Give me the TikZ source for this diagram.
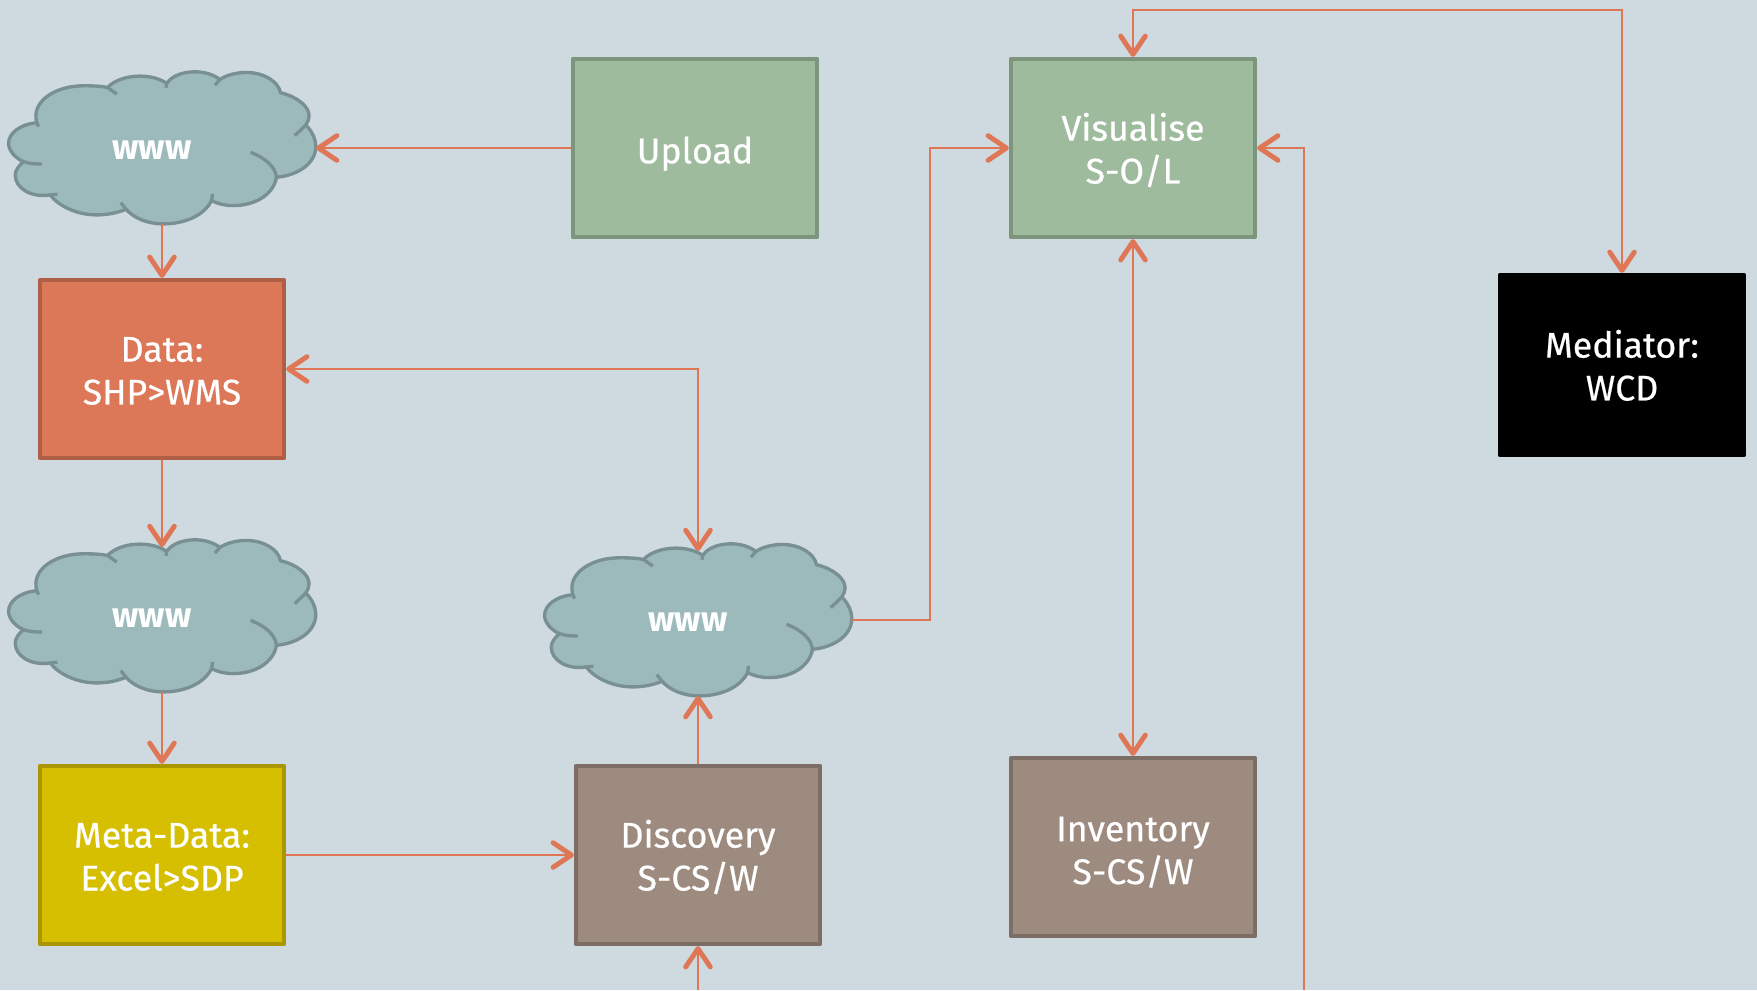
\documentclass[tikz,border=0pt]{standalone}
\usepackage{fontspec}
\setmainfont{Fira Sans}
\newfontfamily\boxfont{Fira Sans}[FakeBold=0.5]
\usetikzlibrary{arrows.meta}

\definecolor{paneback}{HTML}{CFDAE0}
\definecolor{cloudfill}{HTML}{9CBABC}
\definecolor{cloudline}{HTML}{789092}
\definecolor{greenfill}{HTML}{9FBB9D}
\definecolor{greenline}{HTML}{7D957C}
\definecolor{redfill}{HTML}{DC7857}
\definecolor{redline}{HTML}{AF5F46}
\definecolor{yellowfill}{HTML}{D6BE00}
\definecolor{yellowline}{HTML}{A99600}
\definecolor{brownfill}{HTML}{9E8B80}
\definecolor{brownline}{HTML}{7C6E65}
\definecolor{flowline}{HTML}{DF7757}

\newcommand{\boxtext}[2][1.55pt]{\raisebox{-#1}[\height][\depth]{\begin{tabular}{@{}c@{}}#2\end{tabular}}}

\tikzset{
	box/.style={draw,line width=1.2pt,line join=round,minimum width=2.44cm,minimum height=1.78cm,
		inner sep=0pt,text=white,font=\fontsize{10.15}{12.2}\selectfont\boxfont},
	greenbox/.style={box,fill=greenfill,draw=greenline},
	redbox/.style={box,fill=redfill,draw=redline},
	yellowbox/.style={box,fill=yellowfill,draw=yellowline},
	brownbox/.style={box,fill=brownfill,draw=brownline},
	blackbox/.style={box,fill=black,draw=black,minimum height=1.8cm},
	cloudbox/.style={minimum width=3.08cm,minimum height=1.52cm,inner sep=0pt,outer sep=0pt,
		text=white,font=\fontsize{10}{12.2}\selectfont\bfseries},
	flow/.style={draw=flowline,line width=0.55pt,
		-{Straight Barb[length=5.2pt,width=7pt,line width=1.4pt,round]}},
	flowboth/.style={flow,
		{Straight Barb[length=5.2pt,width=7pt,line width=1.4pt,round]}-{Straight Barb[length=5.2pt,width=7pt,line width=1.4pt,round]}},
	cloudblob/.pic={
		\begin{scope}[x=0.00333cm,y=-0.00333cm,line width=0.95pt,draw=cloudline]
		\path[fill=cloudfill,draw=cloudline,line join=round] (-376,-76)
		.. controls (-395,-140) and (-320,-187) .. (-236,-187) .. controls (-205,-187) and (-185,-186) .. (-164,-182)
		.. controls (-140,-205) and (-105,-216) .. (-66,-216) .. controls (-35,-216) and (-5,-208) .. (14,-194)
		.. controls (30,-218) and (65,-229) .. (99,-229) .. controls (130,-229) and (155,-220) .. (174,-206)
		.. controls (195,-220) and (225,-227) .. (254,-227) .. controls (305,-227) and (350,-200) .. (356,-166)
		.. controls (405,-155) and (442,-125) .. (442,-97) .. controls (442,-87) and (438,-78) .. (432,-69)
		.. controls (452,-50) and (462,-25) .. (462,-4) .. controls (462,45) and (410,82) .. (344,88)
		.. controls (335,140) and (280,173) .. (214,173) .. controls (190,173) and (168,168) .. (149,158)
		.. controls (125,205) and (65,228) .. (4,228) .. controls (-45,228) and (-85,210) .. (-108,184)
		.. controls (-135,195) and (-165,201) .. (-196,201) .. controls (-255,201) and (-310,175) .. (-336,141)
		.. controls (-395,150) and (-441,120) .. (-441,81) .. controls (-441,68) and (-430,52) .. (-416,41)
		.. controls (-445,28) and (-461,5) .. (-461,-14) .. controls (-461,-45) and (-425,-72) .. (-376,-76) -- cycle;
		\draw (-164,-182) -- (-136,-162);%inner folds
		\draw (14,-194) -- (12,-181);
		\draw (174,-206) -- (159,-189);
		\draw (432,-69) -- (399,-37);
		\draw (344,88) .. controls (340,55) and (310,30) .. (266,13);
		\draw (149,158) -- (152,138);
		\draw (-108,184) -- (-124,164);
		\draw (-336,141) -- (-314,139);
		\draw (-416,41) .. controls (-400,47) and (-380,48) .. (-361,48);
		\draw (-376,-76) -- (-371,-64);
		\end{scope}
	}
}

\begin{document}
\begin{tikzpicture}[x=0.01cm,y=-0.01cm]

\useasboundingbox (0,0) rectangle (1757,990);
\fill[paneback] (0,0) rectangle (1757,990);

%clouds
\pic at (162,148) {cloudblob};
\pic at (162,616) {cloudblob};
\pic at (698,620) {cloudblob};
\node[cloudbox] (cloudA) at (162,148) {\boxtext[0.8pt]{www\kern5.7pt}};
\node[cloudbox] (cloudB) at (162,616) {\boxtext[0.8pt]{www\kern5.7pt}};
\node[cloudbox] (cloudC) at (698,620) {\boxtext[0.8pt]{www\kern5.7pt}};

%boxes
\node[greenbox] (upload) at (695,148) {\boxtext[1.9pt]{Upload}};
\node[greenbox] (visualise) at (1133,148) {\boxtext{Visualise\\S-O/L}};
\node[redbox] (data) at (162,369) {\boxtext{Data:\\SHP>WMS}};
\node[yellowbox] (meta) at (162,855) {\boxtext{Meta-Data:\\Excel>SDP}};
\node[brownbox] (discovery) at (698,855) {\boxtext{Discovery\\S-CS/W}};
\node[brownbox] (inventory) at (1133,847) {\boxtext[2pt]{Inventory\\S-CS/W}};
\node[blackbox] (mediator) at (1622,365) {\boxtext{Mediator:\\WCD}};

%free ends and elbows
\coordinate (topturn) at (1400,10);
\coordinate (midturn) at (930,148);
\coordinate (rightfoot) at (1304,990);
\coordinate (rightturn) at (1304,148);
\coordinate (discfoot) at (698,990);

%left column
\draw[flow] (upload.west) -- (cloudA.east);
\draw[flow] (cloudA.south) -- (data.north);
\draw[flow] (data.south) -- ([yshift=-2pt]cloudB.north);
\draw[flow] (cloudB.south) -- (meta.north);
\draw[flow] (meta.east) -- (discovery.west);

%middle
\draw[flow] (discovery.north) -- (cloudC.south);
\draw[flow] (discfoot) -- (discovery.south);
\draw[flowboth] (data.east) -| ([yshift=-2pt]cloudC.north);
\draw[flow] (cloudC.east) -| (midturn) -- (visualise.west);

%right
\draw[flowboth] (visualise.south) -- (inventory.north);
\draw[flowboth] (visualise.north) |- (topturn) -| (mediator.north);
\draw[flow] (rightfoot) -- (rightturn) -- (visualise.east);

\end{tikzpicture}
\end{document}
